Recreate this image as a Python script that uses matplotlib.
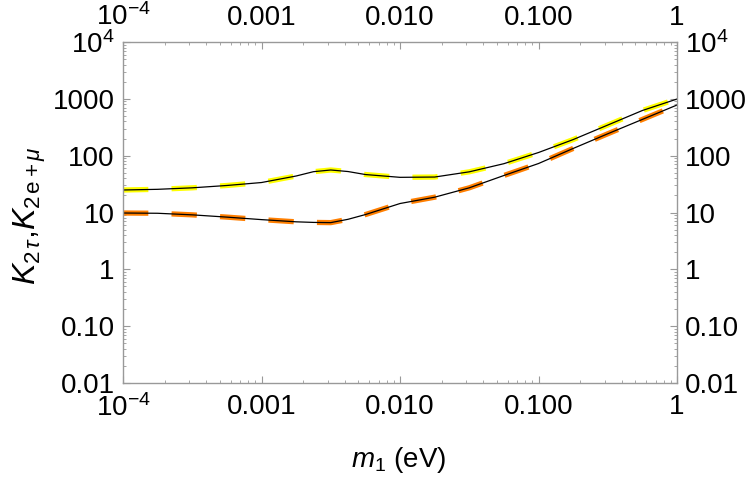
import numpy as np
import matplotlib
matplotlib.use("Agg")
import matplotlib.pyplot as plt
from matplotlib.ticker import FixedLocator, FixedFormatter, NullFormatter, LogLocator

plt.rcParams['font.family'] = ['Liberation Sans', 'DejaVu Sans']
plt.rcParams['mathtext.fontset'] = 'custom'
plt.rcParams['mathtext.rm'] = 'Liberation Sans'
plt.rcParams['mathtext.it'] = 'Liberation Sans:italic'
plt.rcParams['mathtext.bf'] = 'Liberation Sans:bold'

# data
m1 = [1e-4, 10**-3.75, 10**-3.5, 10**-3.25, 1e-3, 10**-2.75, 10**-2.625, 10**-2.5,
      10**-2.375, 10**-2.25, 1e-2, 10**-1.75, 10**-1.5, 10**-1.25, 1e-1,
      10**-0.75, 10**-0.5, 10**-0.25, 1.0]
K2tau = [24.9, 25.6, 27.2, 29.9, 33.7, 43.9, 52.3, 56.0, 52.6, 46.6, 41.6, 42.1,
         52.0, 72.3, 113.7, 192, 346, 624, 993]
K2emu = [9.8, 9.7, 9.1, 8.3, 7.5, 6.86, 6.7, 6.64, 7.6, 9.2, 14.4, 18.6, 27.2,
         44.8, 72.8, 134, 243, 435, 779]

xticks = [1e-4, 1e-3, 1e-2, 1e-1, 1]
xticklabels = ['$10^{-4}$', '0.001', '0.010', '0.100', '1']
yticks = [1e-2, 1e-1, 1, 10, 100, 1000, 1e4]
yticklabels = ['0.01', '0.10', '1', '10', '100', '1000', '$10^4$']

fig = plt.figure(figsize=(7.5, 4.78), dpi=100)
ax = fig.add_axes([0.164, 0.1987, 0.7387, 0.7134])

ax.plot(m1, K2tau, color='#FFFF00', lw=3.8, dashes=(4.8, 4.4), solid_capstyle='butt',
        dash_capstyle='butt')
ax.plot(m1, K2emu, color='#FF7F00', lw=3.8, dashes=(4.8, 4.4), solid_capstyle='butt',
        dash_capstyle='butt')
ax.plot(m1, K2tau, color='black', lw=0.9)
ax.plot(m1, K2emu, color='black', lw=0.9)

ax.set_xscale('log')
ax.set_yscale('log')
ax.set_xlim(1e-4, 1)
ax.set_ylim(1e-2, 1e4)

ax.xaxis.set_major_locator(FixedLocator(xticks))
ax.xaxis.set_major_formatter(FixedFormatter(xticklabels))
ax.yaxis.set_major_locator(FixedLocator(yticks))
ax.yaxis.set_major_formatter(FixedFormatter(yticklabels))
ax.xaxis.set_minor_locator(LogLocator(base=10, subs=np.arange(2, 10), numticks=20))
ax.yaxis.set_minor_locator(LogLocator(base=10, subs=np.arange(2, 10), numticks=20))
ax.xaxis.set_minor_formatter(NullFormatter())
ax.yaxis.set_minor_formatter(NullFormatter())

gray = '#999999'
for s in ax.spines.values():
    s.set_color(gray)
    s.set_linewidth(1.0)
ax.tick_params(which='both', direction='in', top=True, right=True,
               labeltop=True, labelright=True, color=gray, labelsize=20,
               labelcolor='black')
ax.tick_params(which='major', length=5, width=0.8)
ax.tick_params(which='minor', length=2.5, width=0.6)
ax.tick_params(axis='x', which='major', pad=8)
ax.tick_params(axis='x', which='major', labeltop=True)
ax.tick_params(axis='y', which='major', pad=6)
for lab in ax.xaxis.get_ticklabels(which='major'):
    pass

fig.text(0.532, 0.038, '$m_1$ (eV)', ha='center', va='center', fontsize=20)
fig.text(0.04, 0.548, r'$K_{2\,\tau}$,$K_{2\,\mathrm{e+}\mu}$', ha='center',
         va='center', fontsize=23, rotation=90)

fig.savefig('out.png', dpi=100)
